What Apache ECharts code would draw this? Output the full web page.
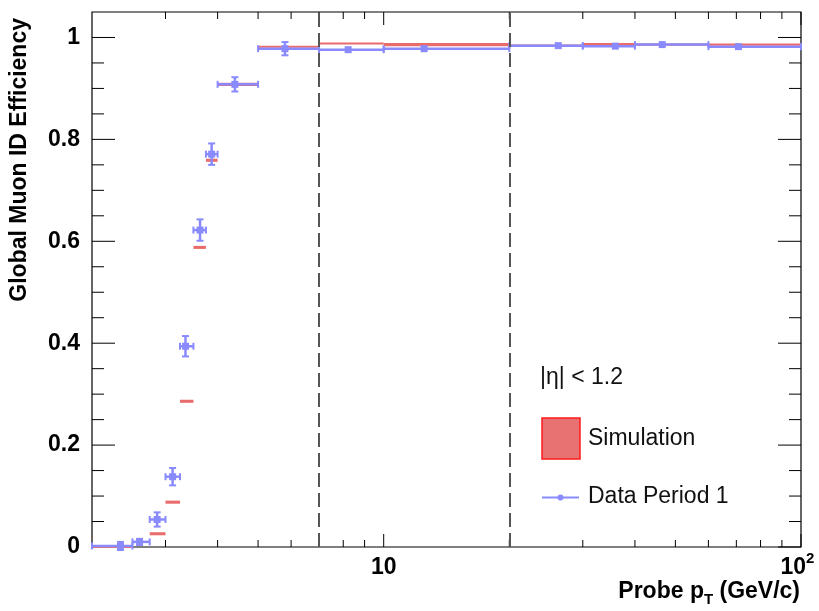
<!DOCTYPE html>
<html><head><meta charset="utf-8">
<script src="https://cdn.jsdelivr.net/npm/echarts@6/dist/echarts.min.js"></script>
<style>html,body{margin:0;padding:0;background:#fff}#c{width:819px;height:611px}</style>
</head><body><div id="c"></div>
<script>
// ---- data ----
const binLow    = [2, 2.5, 2.75, 3, 3.25, 3.5, 3.75, 4, 5, 7, 10, 20, 30, 40, 60];
const binHigh   = [2.5, 2.75, 3, 3.25, 3.5, 3.75, 4, 5, 7, 10, 20, 30, 40, 60, 100];
const dataMeanPt= [2.34, 2.60, 2.865, 3.12, 3.35, 3.63, 3.87, 4.40, 5.80, 8.22, 12.5, 26.2, 35.9, 46.5, 70.8];
const dataEff   = [0.002, 0.010, 0.054, 0.138, 0.394, 0.622, 0.771, 0.908, 0.978, 0.976, 0.978, 0.984, 0.983, 0.986, 0.982];
const dataErr   = [0.008, 0.006, 0.014, 0.017, 0.020, 0.021, 0.021, 0.014, 0.013, 0.004, 0.002, 0.003, 0.003, 0.003, 0.003];
const simEff    = [0.000, 0.010, 0.026, 0.088, 0.286, 0.588, 0.759, 0.908, 0.982, 0.988, 0.986, 0.984, 0.987, 0.986, 0.986];
const simErr    = [0.002, 0.002, 0.003, 0.003, 0.003, 0.003, 0.003, 0.003, 0.002, 0.0015, 0.003, 0.002, 0.002, 0.002, 0.002];
const xMajorTicks = [10, 100];
const xMinorTicks = [3, 4, 5, 6, 7, 8, 9, 20, 30, 40, 50, 60, 70, 80, 90];
const yMajorTicks = [0, 0.2, 0.4, 0.6, 0.8, 1.0];
const yMinorTicks = [0.05, 0.1, 0.15, 0.25, 0.3, 0.35, 0.45, 0.5, 0.55, 0.65, 0.7, 0.75, 0.85, 0.9, 0.95];
const xLabelValues = [10, 100];
const dashedAt = [7, 20];
const xMin = 2, xMax = 100, yMin = 0, yMax = 1.05;

const FONT = "'Liberation Sans', Arial, Helvetica, sans-serif";
const BLUE = '#8a8aff';
const RED = '#ea6b6b';

const chart = echarts.init(document.getElementById('c'));

const simData = binLow.map((lo, i) => [lo, binHigh[i], simEff[i], simErr[i]]);
const dataData = binLow.map((lo, i) => [lo, binHigh[i], dataMeanPt[i], dataEff[i], dataErr[i]]);
const xTickData = xMajorTicks.map(v => [v, 0.5, 1]).concat(xMinorTicks.map(v => [v, 0.5, 0]));
const yTickData = yMajorTicks.map(v => [3, v, 1]).concat(yMinorTicks.map(v => [3, v, 0]));
const xLabData = xLabelValues.map(v => [v, 0.5]);

function simRender(params, api) {
  const lo = api.value(0), hi = api.value(1), y = api.value(2), e = api.value(3);
  const a = api.coord([lo, y + e]);
  const b = api.coord([hi, y - e]);
  let h = b[1] - a[1];
  let top = a[1];
  if (h < 2) { top = (a[1] + b[1]) / 2 - 1; h = 2; }
  return { type: 'rect', shape: { x: a[0], y: top, width: b[0] - a[0], height: h },
           style: { fill: RED } };
}

function dataRender(params, api) {
  const lo = api.value(0), hi = api.value(1), x = api.value(2), y = api.value(3), e = api.value(4);
  const pl = api.coord([lo, y]), ph = api.coord([hi, y]), p = api.coord([x, y]);
  const pt = api.coord([x, y + e]), pb = api.coord([x, y - e]);
  const st = { stroke: BLUE, lineWidth: 2.5 };
  const c = 3.5;
  const kids = [
    { type: 'line', shape: { x1: pl[0], y1: p[1], x2: ph[0], y2: p[1] }, style: st },
    { type: 'line', shape: { x1: pl[0], y1: p[1] - c, x2: pl[0], y2: p[1] + c }, style: { stroke: BLUE, lineWidth: 2 } },
    { type: 'line', shape: { x1: ph[0], y1: p[1] - c, x2: ph[0], y2: p[1] + c }, style: { stroke: BLUE, lineWidth: 2 } }
  ];
  if (pb[1] - pt[1] > 5) {
    kids.push({ type: 'line', shape: { x1: p[0], y1: pt[1], x2: p[0], y2: pb[1] }, style: st });
    kids.push({ type: 'line', shape: { x1: p[0] - c, y1: pt[1], x2: p[0] + c, y2: pt[1] }, style: { stroke: BLUE, lineWidth: 2 } });
    kids.push({ type: 'line', shape: { x1: p[0] - c, y1: pb[1], x2: p[0] + c, y2: pb[1] }, style: { stroke: BLUE, lineWidth: 2 } });
  }
  kids.push({ type: 'rect', shape: { x: p[0] - 3.5, y: p[1] - 3.5, width: 7, height: 7 }, style: { fill: BLUE } });
  return { type: 'group', children: kids };
}

function xTickRender(params, api) {
  const cs = params.coordSys;
  const p = api.coord([api.value(0), api.value(1)]);
  const len = api.value(2) ? 13 : 7;
  const st = { stroke: '#000', lineWidth: 1 };
  const bot = cs.y + cs.height, top = cs.y;
  return { type: 'group', children: [
    { type: 'line', shape: { x1: p[0], y1: bot, x2: p[0], y2: bot - len }, style: st },
    { type: 'line', shape: { x1: p[0], y1: top, x2: p[0], y2: top + len }, style: st }
  ]};
}

function yTickRender(params, api) {
  const cs = params.coordSys;
  const p = api.coord([api.value(0), api.value(1)]);
  const len = api.value(2) ? 23 : 12;
  const st = { stroke: '#000', lineWidth: 1 };
  const l = cs.x, r = cs.x + cs.width;
  return { type: 'group', children: [
    { type: 'line', shape: { x1: l, y1: p[1], x2: l + len, y2: p[1] }, style: st },
    { type: 'line', shape: { x1: r, y1: p[1], x2: r - len, y2: p[1] }, style: st }
  ]};
}

function xLabRender(params, api) {
  const cs = params.coordSys;
  const v = api.value(0);
  const p = api.coord([v, api.value(1)]);
  const yy = cs.y + cs.height + 21;
  const f = 'bold 23px ' + FONT;
  if (v >= 99) {
    return { type: 'group', children: [
      { type: 'text', style: { text: '10', x: p[0] + 5, y: yy, align: 'right', verticalAlign: 'middle', font: f, fill: '#000' } },
      { type: 'text', style: { text: '2', x: p[0] + 5, y: yy - 9, align: 'left', verticalAlign: 'middle', font: 'bold 15px ' + FONT, fill: '#000' } }
    ]};
  }
  return { type: 'text', style: { text: String(Math.round(v)), x: p[0], y: yy, align: 'center', verticalAlign: 'middle', font: f, fill: '#000' } };
}

const option = {
  animation: false,
  backgroundColor: '#fff',
  grid: { left: 92, right: 18, top: 12, bottom: 64, show: true, borderColor: '#000', borderWidth: 1.2, backgroundColor: 'transparent' },
  xAxis: { type: 'log', logBase: 10, min: xMin, max: xMax,
    axisLine: { show: false }, axisTick: { show: false }, axisLabel: { show: false }, splitLine: { show: false } },
  yAxis: { type: 'value', min: yMin, max: yMax, interval: 0.2,
    axisLine: { show: false }, axisTick: { show: false }, splitLine: { show: false },
    axisLabel: { showMaxLabel: false, margin: 12, color: '#000', fontFamily: FONT, fontWeight: 'bold', fontSize: 23,
      formatter: v => (Math.abs(v - 1.05) < 1e-6 ? '' : String(Math.round(v * 10) / 10)) } },
  series: [
    { type: 'custom', name: 'ticksX', renderItem: xTickRender, data: xTickData, encode: { x: 0, y: 1 }, silent: true, z: 1 },
    { type: 'custom', name: 'ticksY', renderItem: yTickRender, data: yTickData, encode: { x: 0, y: 1 }, silent: true, z: 1 },
    { type: 'custom', name: 'labelsX', renderItem: xLabRender, data: xLabData, encode: { x: 0, y: 1 }, silent: true, clip: false, z: 1 },
    { type: 'custom', name: 'Simulation', renderItem: simRender, data: simData, encode: { x: [0, 1], y: 2 }, z: 3 },
    { type: 'custom', name: 'Data Period 1', renderItem: dataRender, data: dataData, encode: { x: [0, 1, 2], y: 3 }, z: 4,
      markLine: { silent: true, symbol: 'none', label: { show: false }, animation: false, z: 6,
        lineStyle: { color: '#555', width: 2, type: [14, 6] },
        data: dashedAt.map(v => ({ xAxis: v })) } }
  ],
  graphic: [
    { type: 'text', x: 20, y: 18, rotation: Math.PI / 2,
      style: { text: 'Global Muon ID Efficiency', align: 'right', verticalAlign: 'middle', font: 'bold 23px ' + FONT, fill: '#000' } },
    { type: 'text', x: 800, y: 592,
      style: { text: '{a|Probe p}{t|T}{a| (GeV/c)}', align: 'right', verticalAlign: 'middle', font: 'bold 23px ' + FONT, fill: '#000',
        rich: { a: { font: 'bold 23px ' + FONT, fill: '#000' }, t: { font: 'bold 15px ' + FONT, fill: '#000', padding: [16, 0, 0, 0] } } } },
    { type: 'text', x: 540, y: 378, style: { text: '|η| < 1.2', verticalAlign: 'middle', font: '23px ' + FONT, fill: '#111' } },
    { type: 'rect', shape: { x: 542, y: 418, width: 38, height: 41 }, style: { fill: '#e87272', stroke: '#ff1a1a', lineWidth: 1.5 } },
    { type: 'text', x: 588, y: 439, style: { text: 'Simulation', verticalAlign: 'middle', font: '23px ' + FONT, fill: '#111' } },
    { type: 'line', shape: { x1: 542, y1: 497.5, x2: 579, y2: 497.5 }, style: { stroke: BLUE, lineWidth: 2 } },
    { type: 'circle', shape: { cx: 560.5, cy: 497.5, r: 3 }, style: { fill: BLUE } },
    { type: 'text', x: 588, y: 497, style: { text: 'Data Period 1', verticalAlign: 'middle', font: '23px ' + FONT, fill: '#111' } }
  ]
};
chart.setOption(option);
</script>
</body></html>
